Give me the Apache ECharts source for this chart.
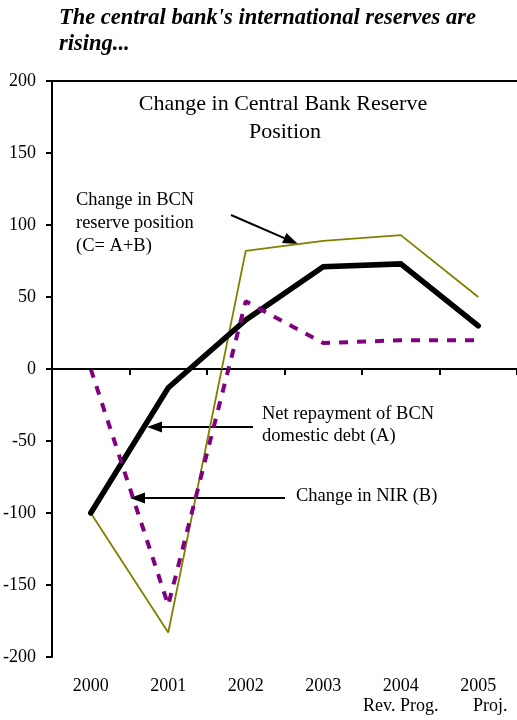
<!DOCTYPE html>
<html>
<head>
<meta charset="utf-8">
<script src="https://cdn.jsdelivr.net/npm/echarts@6/dist/echarts.min.js"></script>
<style>
html,body{margin:0;padding:0;background:#fff;}
#c{width:517px;height:720px;}
</style>
</head>
<body>
<div id="c"></div>
<script>
var categories = ['2000', '2001', '2002', '2003', '2004', '2005'];
var subLabels = ['', '', '', '', 'Rev. Prog.', 'Proj.'];
var seriesC = [-100, -183, 82, 89, 93, 50];   // Change in BCN reserve position (C = A+B)
var seriesA = [-100, -13, 34, 71, 73, 30];    // Net repayment of BCN domestic debt (A)
var seriesB = [0, -164, 47, 18, 20, 20];      // Change in NIR (B)
var yTicks = [-200, -150, -100, -50, 0, 50, 100, 150, 200];

var FONT = '"Liberation Serif", "Times New Roman", serif';
var chart = echarts.init(document.getElementById('c'), null, {renderer: 'canvas'});

function arrow(x1, y1, x2, y2) {
  var dx = x2 - x1, dy = y2 - y1, len = Math.sqrt(dx * dx + dy * dy);
  var ux = dx / len, uy = dy / len, L = 15, W = 5.5;
  var bx = x2 - ux * L, by = y2 - uy * L;
  return [
    {type: 'line', shape: {x1: x1, y1: y1, x2: bx + ux * 2, y2: by + uy * 2}, style: {stroke: '#000', lineWidth: 2}},
    {type: 'polygon', shape: {points: [[x2, y2], [bx - uy * W, by + ux * W], [bx + uy * W, by - ux * W]]}, style: {fill: '#000'}}
  ];
}

function txt(s, x, y, font, align) {
  return {type: 'text', style: {text: s, x: x, y: y, font: font, fill: '#000', textAlign: align || 'left', textVerticalAlign: 'middle'}};
}

var TF = 'italic bold 22.5px ' + FONT;
var IF = '22px ' + FONT;
var AF = '18.5px ' + FONT;
var graphics = [
  txt("The central bank's international reserves are", 59, 18.5, TF),
  txt('rising...', 59, 44, TF),
  txt('Change in Central Bank Reserve', 283, 104.5, IF, 'center'),
  txt('Position', 285, 132.5, IF, 'center'),
  txt('Change in BCN', 76, 200, AF),
  txt('reserve position', 76, 223, AF),
  txt('(C= A+B)', 76, 246, AF),
  txt('Net repayment of BCN', 262, 414, AF),
  txt('domestic debt (A)', 262, 436.5, AF),
  txt('Change in NIR (B)', 296, 496.5, AF)
];
graphics = graphics.concat(arrow(231, 215, 298, 244), arrow(253, 427, 147, 427), arrow(285, 498, 130, 498));

var option = {
  animation: false,
  backgroundColor: '#fff',
  grid: {left: 51, right: 0, top: 81, bottom: 63, containLabel: false},
  xAxis: [{
    type: 'category',
    data: categories,
    boundaryGap: true,
    position: 'bottom',
    axisLine: {show: true, lineStyle: {color: '#000', width: 2}},
    axisTick: {show: true, interval: 0, length: 6, inside: false, lineStyle: {color: '#000', width: 2}},
    axisLabel: {
      interval: 0, margin: 19, color: '#000', fontFamily: FONT, fontSize: 18, lineHeight: 20,
      formatter: function (v, i) {
        if (subLabels[i] === 'Proj.') return v + '\n{p|' + subLabels[i] + '}';
        return subLabels[i] ? v + '\n' + subLabels[i] : v;
      },
      rich: {p: {fontFamily: FONT, fontSize: 18, color: '#000', padding: [0, 0, 0, 24], lineHeight: 20}}
    },
    splitLine: {show: false}
  }, {
    type: 'category',
    data: categories,
    position: 'top',
    axisLine: {show: true, lineStyle: {color: '#000', width: 2}},
    axisTick: {show: false},
    axisLabel: {show: false},
    splitLine: {show: false}
  }],
  yAxis: {
    type: 'value',
    min: yTicks[0],
    max: yTicks[yTicks.length - 1],
    interval: 50,
    axisLine: {show: true, lineStyle: {color: '#000', width: 2}},
    axisTick: {show: true, length: 6, lineStyle: {color: '#000', width: 2}},
    axisLabel: {margin: 16, color: '#000', fontFamily: FONT, fontSize: 18},
    splitLine: {show: false}
  },
  series: [
    {
      name: 'C', type: 'line', data: seriesC, symbol: 'none',
      lineStyle: {color: '#808000', width: 1.8},
      z: 2,
      markLine: {
        silent: true, symbol: 'none', label: {show: false},
        lineStyle: {color: '#000', width: 1.2, type: 'solid'},
        data: [{yAxis: 0}]
      }
    },
    {
      name: 'A', type: 'line', data: seriesA, symbol: 'none',
      lineStyle: {color: '#000', width: 5.5, cap: 'round', join: 'miter'},
      z: 3
    },
    {
      name: 'B', type: 'line', data: seriesB, symbol: 'none',
      lineStyle: {color: '#800080', width: 4, type: [9, 9], cap: 'butt'},
      z: 4
    }
  ],
  graphic: graphics
};
chart.setOption(option);
</script>
</body>
</html>
